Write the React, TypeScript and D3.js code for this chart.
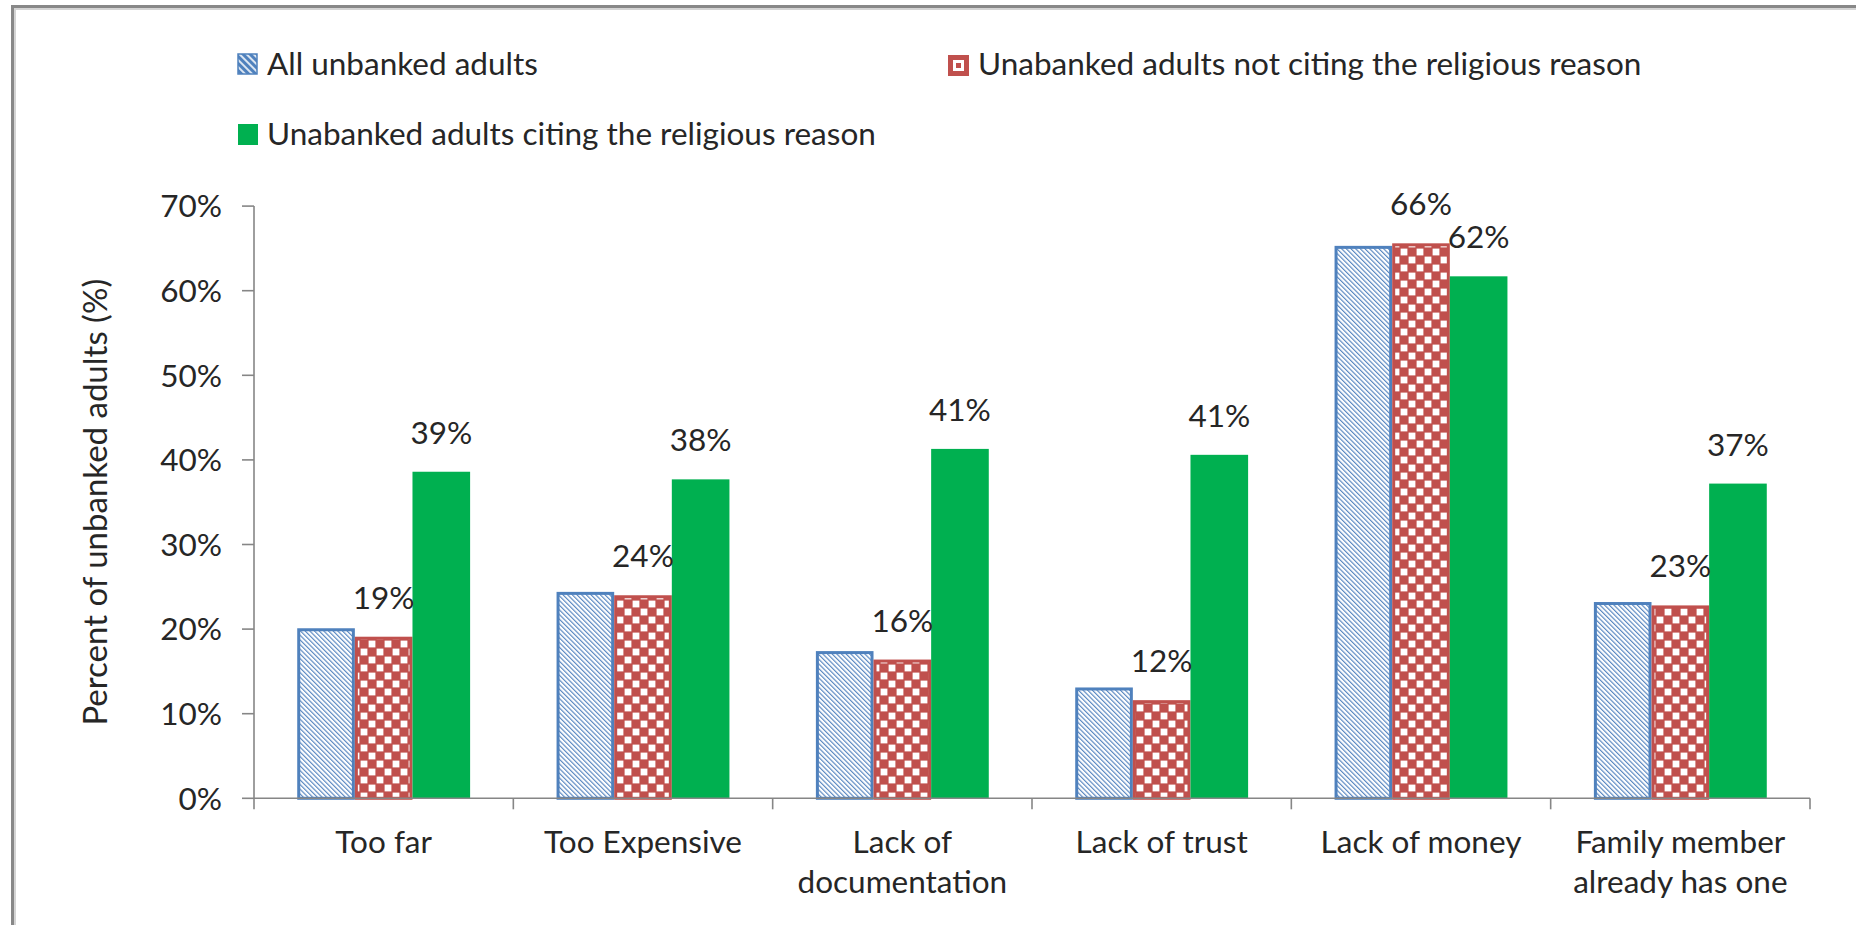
import React from "react";
import * as d3 from "d3";

const categories = [
  "Too far",
  "Too Expensive",
  "Lack of\ndocumentation",
  "Lack of trust",
  "Lack of money",
  "Family member\nalready has one",
];
const seriesNames = [
  "All unbanked adults",
  "Unabanked adults not citing the religious reason",
  "Unabanked adults citing the religious reason",
];
const allUnbanked = [20.1, 24.4, 17.4, 13.1, 65.3, 23.2];
const notCiting = [19.1, 24.0, 16.4, 11.6, 65.6, 22.8];
const citing = [38.6, 37.7, 41.3, 40.6, 61.7, 37.2];
const yTicks = [0, 10, 20, 30, 40, 50, 60, 70];

const FONT = "Lato, 'Open Sans', sans-serif";
const TEXT = "#262626";
const BLUE = "#4F81BD";
const RED = "#C0504D";
const GREEN = "#00B050";
const AXIS = "#868686";

export default function App() {
  const W = 1856;
  const H = 925;
  const left = 254;
  const right = 1810;
  const top = 206.1;
  const bottom = 798.3;

  const x0 = d3.scaleBand<string>().domain(categories).range([left, right]).padding(0);
  const x1 = d3
    .scaleBand<string>()
    .domain(seriesNames)
    .range([0, x0.bandwidth()])
    .paddingInner(0)
    .paddingOuter(0.75);
  const y = d3.scaleLinear().domain([0, 70]).range([bottom, top]);

  const series = [
    { name: seriesNames[0], values: allUnbanked, fill: "url(#hatch)", stroke: BLUE, label: false },
    { name: seriesNames[1], values: notCiting, fill: "url(#checker)", stroke: RED, label: true },
    { name: seriesNames[2], values: citing, fill: GREEN, stroke: "none", label: true },
  ];

  const bw = x1.bandwidth();
  const catTicks = [...categories.map((c) => x0(c) as number), right];

  return (
    <svg
      width={W}
      height={H}
      style={{ position: "absolute", left: 0, top: 0, overflow: "hidden", background: "#fff" }}
      fontFamily={FONT}
    >
      <defs>
        <pattern id="hatch" patternUnits="userSpaceOnUse" width={3.3} height={3.3} patternTransform="rotate(-45)">
          <rect width={3.3} height={3.3} fill="#fff" />
          <line x1={0.6} y1={0} x2={0.6} y2={3.3} stroke={BLUE} strokeWidth={1.1} />
        </pattern>
        <pattern id="checker" patternUnits="userSpaceOnUse" width={16} height={16}>
          <rect width={16} height={16} fill={RED} />
          <rect x={0.6} y={0.6} width={6.8} height={6.8} fill="#fff" />
          <rect x={8.6} y={8.6} width={6.8} height={6.8} fill="#fff" />
        </pattern>
        <pattern id="hatchSmall" patternUnits="userSpaceOnUse" width={5} height={5} patternTransform="rotate(-45)">
          <rect width={5} height={5} fill={BLUE} />
          <line x1={1} y1={0} x2={1} y2={5} stroke="#fff" strokeWidth={1.6} />
        </pattern>
      </defs>

      {/* outer frame */}
      <rect x={0} y={0} width={W} height={H} fill="#fff" />
      <path d={`M12.5,${H} V6.5 H${W}`} fill="none" stroke="#888" strokeWidth={3} />
      <path d={`M15,${H} V9 H${W}`} fill="none" stroke="#d4d4d4" strokeWidth={2} />

      {/* legend */}
      <g fontSize={31.5} fill={TEXT}>
        <rect x={238} y={54} width={19} height={20} fill="url(#hatchSmall)" stroke={BLUE} strokeWidth={1.5} />
        <text x={267} y={75}>{seriesNames[0]}</text>
        <rect x={948} y={55} width={21} height={21} fill={RED} />
        <rect x={953} y={60} width={11} height={11} fill="#fff" />
        <rect x={956} y={63} width={5} height={5} fill={RED} />
        <text x={978} y={75}>{seriesNames[1]}</text>
        <rect x={238} y={124} width={20} height={21} fill={GREEN} />
        <text x={267} y={145}>{seriesNames[2]}</text>
      </g>

      {/* y axis */}
      <line x1={left} y1={top} x2={left} y2={bottom} stroke={AXIS} strokeWidth={1.6} />
      {yTicks.map((t) => (
        <g key={t}>
          <line x1={left - 12} x2={left} y1={y(t)} y2={y(t)} stroke={AXIS} strokeWidth={1.6} />
          <text x={222} y={y(t)} dy="0.36em" textAnchor="end" fontSize={31.5} fill={TEXT}>
            {`${t}%`}
          </text>
        </g>
      ))}
      <text
        transform={`translate(107,${(top + bottom) / 2}) rotate(-90)`}
        textAnchor="middle"
        fontSize={33}
        fill={TEXT}
      >
        Percent of unbanked adults (%)
      </text>

      {/* bars */}
      {series.map((s) => (
        <g key={s.name}>
          {categories.map((c, i) => {
            const bx = (x0(c) as number) + (x1(s.name) as number);
            const by = y(s.values[i]);
            const inset = s.stroke === "none" ? 0 : 1.5;
            return (
              <rect
                key={c}
                x={bx + inset}
                y={by + inset}
                width={bw - 2 * inset}
                height={bottom - by - inset}
                fill={s.fill}
                stroke={s.stroke}
                strokeWidth={3}
              />
            );
          })}
        </g>
      ))}

      {/* x axis */}
      <line x1={left} y1={bottom} x2={right} y2={bottom} stroke={AXIS} strokeWidth={1.6} />
      {catTicks.map((tx, i) => (
        <line key={i} x1={tx} x2={tx} y1={bottom} y2={bottom + 11} stroke={AXIS} strokeWidth={1.6} />
      ))}
      {categories.map((c) => {
        const cx = (x0(c) as number) + x0.bandwidth() / 2;
        return (
          <text key={c} x={cx} y={852.7} textAnchor="middle" fontSize={31.5} fill={TEXT}>
            {c.split("\n").map((line, j) => (
              <tspan key={j} x={cx} dy={j === 0 ? 0 : 40}>
                {line}
              </tspan>
            ))}
          </text>
        );
      })}

      {/* data labels */}
      {series
        .filter((s) => s.label)
        .map((s) =>
          categories.map((c, i) => {
            const cx = (x0(c) as number) + (x1(s.name) as number) + bw / 2;
            return (
              <text
                key={s.name + c}
                x={cx}
                y={y(s.values[i]) - 28}
                textAnchor="middle"
                fontSize={31.5}
                fill={TEXT}
              >
                {`${Math.round(s.values[i])}%`}
              </text>
            );
          })
        )}
    </svg>
  );
}
